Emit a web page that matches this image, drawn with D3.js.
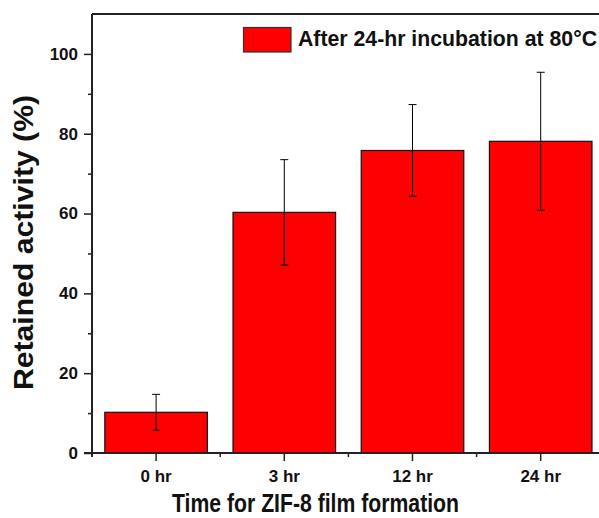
<!DOCTYPE html>
<html>
<head>
<style>
body { margin: 0; background: #fff; }
text { font-family: "Liberation Sans", Arial, sans-serif; font-weight: bold; }
</style>
</head>
<body>
<script src="https://cdn.jsdelivr.net/npm/d3@7"></script>
<script>
// data
var categories = ["0 hr", "3 hr", "12 hr", "24 hr"];
var activity = [10.2, 60.3, 75.8, 78.1];
var errors = [4.5, 13.2, 11.5, 17.3];
var yTicks = [0, 20, 40, 60, 80, 100];

var W = 599, H = 518;
var m = {left: 92, top: 14, right: 604, bottom: 453};

var svg = d3.select("body").append("svg")
    .attr("width", W).attr("height", H);

var x = d3.scaleBand().domain(categories)
    .range([m.left, m.left + 4 * 128.2]).paddingInner(0.2).paddingOuter(0.1);
var y = d3.scaleLinear().domain([0, 110]).range([m.bottom, m.top]);

// bars
svg.selectAll("rect.bar").data(activity).enter().append("rect")
    .attr("class", "bar")
    .attr("x", function(d, i) { return x(categories[i]); })
    .attr("width", x.bandwidth())
    .attr("y", function(d) { return y(d); })
    .attr("height", function(d) { return y(0) - y(d); })
    .style("fill", "#ff0000").style("stroke", "#111").style("stroke-width", 1.2);

// error bars
var eb = svg.selectAll("g.err").data(activity).enter().append("g").attr("class", "err")
    .attr("transform", function(d, i) { return "translate(" + (x(categories[i]) + x.bandwidth() / 2) + ",0)"; });
eb.append("line").attr("y1", function(d, i) { return y(d + errors[i]); })
    .attr("y2", function(d, i) { return y(d - errors[i]); });
eb.append("line").attr("x1", -4).attr("x2", 4)
    .attr("y1", function(d, i) { return y(d + errors[i]); })
    .attr("y2", function(d, i) { return y(d + errors[i]); });
eb.append("line").attr("x1", -4).attr("x2", 4)
    .attr("y1", function(d, i) { return y(d - errors[i]); })
    .attr("y2", function(d, i) { return y(d - errors[i]); });
eb.selectAll("line").style("stroke", "#000").style("stroke-width", 1);

// frame
svg.append("line").attr("x1", m.left).attr("x2", W).attr("y1", m.top).attr("y2", m.top)
    .style("stroke", "#222").style("stroke-width", 2);
svg.append("line").attr("x1", m.right).attr("x2", m.right).attr("y1", m.top).attr("y2", m.bottom)
    .style("stroke", "#222").style("stroke-width", 2);

// y axis
var yAxis = svg.append("g").attr("transform", "translate(" + m.left + ",0)")
    .call(d3.axisLeft(y).tickValues(yTicks).tickSize(8).tickPadding(6));
svg.append("g").attr("transform", "translate(" + m.left + ",0)")
    .call(d3.axisLeft(y).tickValues(d3.range(10, 110, 20)).tickSize(4).tickFormat(""))
    .select(".domain").remove();
yAxis.select(".domain").attr("d", "M0," + m.top + "V" + (m.bottom + 4));

// x axis
var centers = categories.map(function(c) { return x(c) + x.bandwidth() / 2; });
var xAxis = svg.append("g").attr("transform", "translate(0," + m.bottom + ")")
    .call(d3.axisBottom(x).tickSize(8).tickPadding(9));
xAxis.select(".domain").attr("d", "M" + (m.left - 8) + ",0H" + W);
var minorX = centers.slice(0, 3).map(function(c) { return c + 64.1; });
svg.append("g").selectAll("line").data(minorX).enter().append("line")
    .attr("x1", function(d) { return d; }).attr("x2", function(d) { return d; })
    .attr("y1", m.bottom).attr("y2", m.bottom + 4)
    .style("stroke", "#222").style("stroke-width", 1.5);

[xAxis, yAxis].forEach(function(a) {
    a.attr("font-size", 17).attr("font-family", "Liberation Sans, Arial, sans-serif").attr("font-weight", "bold");
});
svg.selectAll(".tick line").style("stroke", "#222").style("stroke-width", 1.5);
svg.selectAll(".domain").style("stroke", "#222").style("stroke-width", 2);
svg.selectAll(".tick text").style("font-size", "17px").style("fill", "#111");

// titles
svg.append("text").attr("x", 315.5).attr("y", 512).attr("text-anchor", "middle")
    .attr("textLength", 287).attr("lengthAdjust", "spacingAndGlyphs")
    .style("font-size", "26px").style("fill", "#111").text("Time for ZIF-8 film formation");
svg.append("text").attr("transform", "translate(33,242.5) rotate(-90)").attr("text-anchor", "middle")
    .attr("textLength", 295).attr("lengthAdjust", "spacingAndGlyphs")
    .style("font-size", "27px").style("fill", "#111").text("Retained activity (%)");

// legend
svg.append("rect").attr("x", 243.5).attr("y", 27.5).attr("width", 47.5).attr("height", 24.5)
    .style("fill", "#ff0000").style("stroke", "#333").style("stroke-width", 1.2);
svg.append("text").attr("x", 298).attr("y", 45.7).style("font-size", "21.5px").style("fill", "#111")
    .attr("textLength", 299).attr("lengthAdjust", "spacingAndGlyphs")
    .text("After 24-hr incubation at 80°C");
</script>
</body>
</html>
